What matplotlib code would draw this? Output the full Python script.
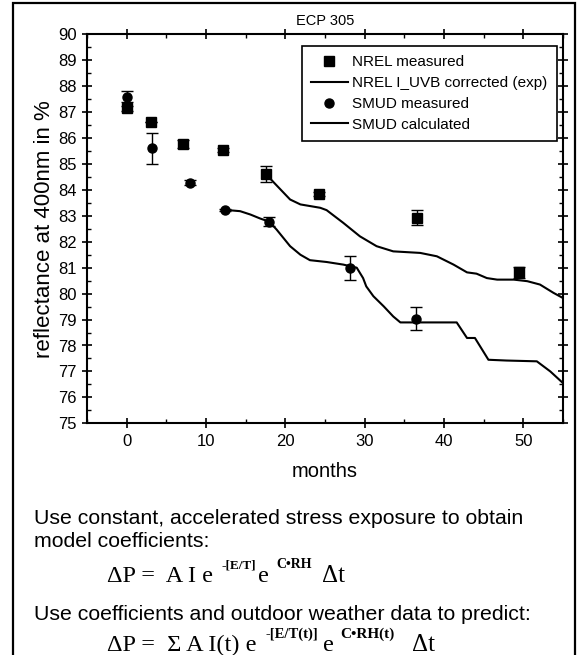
import numpy as np
import matplotlib
matplotlib.use("Agg")
import matplotlib.pyplot as plt
from matplotlib.patches import Rectangle
from matplotlib.lines import Line2D
from matplotlib.ticker import MultipleLocator

# measured points (months, reflectance %, error)
nrel_x = [0, 3.1, 7.1, 12.1, 17.6, 24.3, 36.6, 49.4]
nrel_y = [87.15, 86.6, 85.78, 85.55, 84.62, 83.83, 82.93, 80.82]
nrel_err = [0.1, 0.0, 0.15, 0.08, 0.3, 0.08, 0.3, 0.22]

smud_x = [0, 3.2, 8.0, 12.4, 18.0, 28.2, 36.5]
smud_y = [87.6, 85.6, 84.27, 83.23, 82.78, 81.0, 79.03]
smud_err = [0.2, 0.6, 0.1, 0.03, 0.17, 0.47, 0.45]

# model curves
nrel_calc_x = [17.6, 18.6, 20.6, 21.9, 24.4, 25.2, 27.3, 29.4, 31.5, 33.6, 37.0, 39.1,
               41.2, 42.9, 44.1, 45.4, 46.7, 48.8, 50.5, 52.1, 53.8, 55.0]
nrel_calc_y = [84.6, 84.27, 83.63, 83.44, 83.31, 83.22, 82.73, 82.21, 81.83, 81.63, 81.57, 81.44,
               81.12, 80.82, 80.77, 80.6, 80.54, 80.54, 80.48, 80.35, 80.03, 79.83]

smud_calc_x = [12.4, 14.3, 15.6, 16.8, 18.0, 18.9, 20.6, 21.9, 23.1, 25.2, 27.3, 29.0, 29.8,
               30.2, 31.1, 32.4, 33.6, 34.5, 37.8, 41.6, 42.9, 43.9, 45.6, 47.9, 51.7, 53.4, 55.0]
smud_calc_y = [83.23, 83.18, 83.05, 82.9, 82.77, 82.47, 81.83, 81.5, 81.29, 81.22, 81.12, 81.0, 80.6,
               80.28, 79.9, 79.51, 79.12, 78.89, 78.89, 78.89, 78.29, 78.29, 77.45, 77.42, 77.39, 77.0, 76.55]

legend_labels = ['NREL measured', 'NREL I_UVB corrected (exp)', 'SMUD measured', 'SMUD calculated']

W, H = 584, 655
plt.rcParams['font.family'] = ['Liberation Sans', 'DejaVu Sans']

fig = plt.figure(figsize=(W / 100, H / 100), dpi=100)

def fx(px):
    return px / W

def fy(py):
    return 1 - py / H

# outer frame
fig.patches.append(Rectangle((fx(13), -0.02), fx(575) - fx(13), fy(3) + 0.02,
                             transform=fig.transFigure, fill=False, lw=1.6, ec='black'))

ax = fig.add_axes([fx(87), fy(423.3), fx(563) - fx(87), fy(34.3) - fy(423.3)])

ax.errorbar(nrel_x, nrel_y, yerr=nrel_err, fmt='s', color='black', ms=6.5,
            capsize=4.5, elinewidth=1, capthick=1)
ax.plot(nrel_calc_x, nrel_calc_y, color='black', lw=1.5)
ax.errorbar(smud_x, smud_y, yerr=smud_err, fmt='o', color='black', ms=6.5,
            capsize=4.5, elinewidth=1, capthick=1)
ax.plot(smud_calc_x, smud_calc_y, color='black', lw=1.5)

ax.set_xlim(-5, 55)
ax.set_ylim(75, 90)
ax.xaxis.set_major_locator(MultipleLocator(10))
ax.xaxis.set_minor_locator(MultipleLocator(5))
ax.yaxis.set_major_locator(MultipleLocator(1))
ax.yaxis.set_minor_locator(MultipleLocator(0.5))
ax.tick_params(which='major', direction='inout', length=7, width=1.2,
               top=True, right=True, labelsize=12, pad=4)
ax.tick_params(which='minor', direction='in', length=3, width=1, top=True, right=True)
for s in ax.spines.values():
    s.set_linewidth(1.5)

ax.set_xlabel('months', fontsize=14.5)
ax.xaxis.set_label_coords(0.5, -0.125)
ax.xaxis.label.set_va('center')
ax.set_ylabel('reflectance at 400nm in %', fontsize=16)
ax.yaxis.set_label_coords(-0.09, 0.5)
ax.yaxis.label.set_va('center')

handles = [
    Line2D([], [], marker='s', ls='none', color='black', ms=6.5),
    Line2D([], [], color='black', lw=1.5),
    Line2D([], [], marker='o', ls='none', color='black', ms=6.5),
    Line2D([], [], color='black', lw=1.5),
]
leg = ax.legend(handles, legend_labels, loc='upper right', bbox_to_anchor=(0.987, 0.970),
                borderaxespad=0, fontsize=11, fancybox=False, framealpha=1,
                edgecolor='black', handlelength=2.4, handletextpad=0.3,
                labelspacing=0.45, borderpad=0.6)
leg.get_frame().set_linewidth(1.2)

fig.text(fx(325), fy(25), 'ECP 305', ha='center', va='baseline', fontsize=10.5)

fig.text(fx(34), fy(524), 'Use constant, accelerated stress exposure to obtain',
         ha='left', va='baseline', fontsize=15.3)
fig.text(fx(34), fy(547), 'model coefficients:', ha='left', va='baseline', fontsize=15.3)
fig.text(fx(34), fy(620), 'Use coefficients and outdoor weather data to predict:',
         ha='left', va='baseline', fontsize=15.3)

# formulas: main pieces and raised exponents
serif = 'Liberation Serif'
f1_main, f1_sup = 581.5, 568.5
fig.text(fx(107), fy(f1_main), 'ΔP =  A I e', ha='left', va='baseline', fontsize=17.5, family=serif)
fig.text(fx(222), fy(f1_sup), '-[E/T]', ha='left', va='baseline', fontsize=9.5, family=serif, weight='bold')
fig.text(fx(258), fy(f1_main), 'e', ha='left', va='baseline', fontsize=17.5, family=serif)
fig.text(fx(276), fy(f1_sup), 'C•RH', ha='left', va='baseline', fontsize=10, family=serif, weight='bold')
fig.text(fx(322), fy(f1_main), 'Δt', ha='left', va='baseline', fontsize=18, family=serif)

f2_main, f2_sup = 651, 638
fig.text(fx(107), fy(f2_main), 'ΔP =  Σ A I(t) e', ha='left', va='baseline', fontsize=17.5, family=serif)
fig.text(fx(265), fy(f2_sup), '-[E/T(t)]', ha='left', va='baseline', fontsize=10.5, family=serif, weight='bold')
fig.text(fx(323), fy(f2_main), 'e', ha='left', va='baseline', fontsize=17.5, family=serif)
fig.text(fx(340), fy(f2_sup), 'C•RH(t)', ha='left', va='baseline', fontsize=11, family=serif, weight='bold')
fig.text(fx(412), fy(f2_main), 'Δt', ha='left', va='baseline', fontsize=18, family=serif)

fig.savefig('out.png', dpi=100)
